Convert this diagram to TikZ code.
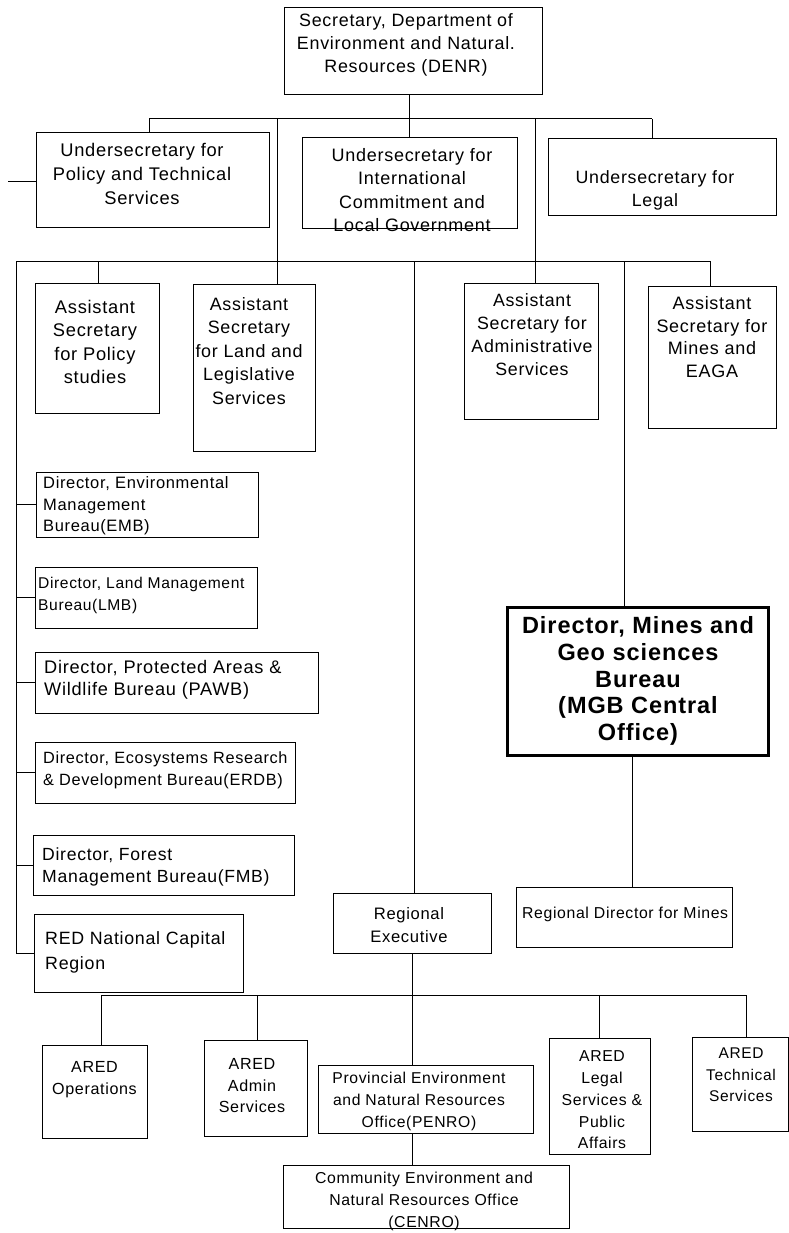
\documentclass[tikz,border=0pt]{standalone}
\usepackage{fontspec}
\setmainfont{Liberation Sans}[LetterSpace=4]
\newcommand\fsz[2]{\fontsize{#1}{#2}\selectfont}
\newcommand\obox[6][]{%
  \pgfmathsetmacro\obw{#5-#3}%
  \pgfmathsetmacro\obh{#6-#4}%
  \pgfmathsetmacro\obx{(#3+#5)/2}%
  \pgfmathsetmacro\oby{(#4+#6)/2}%
  \node[boxst,#1,minimum width=\obw pt,minimum height=\obh pt] (#2) at (\obx,\oby) {};}
\begin{document}
\begin{tikzpicture}[x=1pt,y=-1pt,
  boxst/.style={draw,line width=1pt,inner sep=0pt,outer sep=0pt},
  thickbox/.style={line width=3pt},
  txt/.style={inner sep=0pt,align=center,anchor=center},
  ltxt/.style={inner sep=0pt,align=left,anchor=west},
  con/.style={line width=1pt}]
\fill[white] (0,0) rectangle (789,1233);
\useasboundingbox (0,0) rectangle (789,1233);

% ---------- boxes ----------
\obox{den}{284}{8}{542}{95}
\obox{pts}{36}{133}{269}{228}
\obox{intl}{302}{138}{517}{229}
\obox{leg}{548}{139}{776}{216}
\obox{ps}{35}{283}{159}{413}
\obox{land}{193}{284}{315}{451}
\obox{adm}{464}{283}{598}{419}
\obox{eaga}{648}{286}{776}{428}
\obox{emb}{36}{472}{258}{537}
\obox{lmb}{35}{567}{257}{628}
\obox{pawb}{35}{652}{318}{713}
\obox{erdb}{35}{742}{295}{803}
\obox{fmb}{33}{835}{294}{895}
\obox{red}{34}{914}{243}{992}
\obox[thickbox]{mgb}{507}{607}{768}{755}
\obox{rdm}{516}{887}{732}{947}
\obox{rex}{333}{893}{491}{953}
\obox{ops}{42}{1045}{147}{1138}
\obox{aadm}{204}{1040}{307}{1136}
\obox{penro}{318}{1065}{533}{1133}
\obox{aleg}{549}{1038}{650}{1154}
\obox{tech}{692}{1037}{788}{1131}
\obox{cenro}{283}{1165}{569}{1228}

% ---------- texts ----------
\node[txt,font=\fsz{17.9}{23}] (denT) at (406,45) {Secretary, Department of\\Environment and Natural.\\Resources (DENR)};
\node[txt,font=\fsz{18.3}{24}] (ptsT) at (142,174) {Undersecretary for\\Policy and Technical\\Services};
\node[txt,font=\fsz{18}{23.3}] (intlT) at (412,190) {Undersecretary for\\International\\Commitment and\\Local Government};
\node[txt,font=\fsz{17.8}{23}] (legT) at (655,190) {Undersecretary for\\Legal};
\node[txt,font=\fsz{18.3}{23.5}] (psT) at (95,342) {Assistant\\Secretary\\for Policy\\studies};
\node[txt,font=\fsz{17.9}{23.5}] (landT) at (249,351) {Assistant\\Secretary\\for Land and\\Legislative\\Services};
\node[txt,font=\fsz{17.8}{23}] (admT) at (532,335) {Assistant\\Secretary for\\Administrative\\Services};
\node[txt,font=\fsz{18}{22.7}] (eagaT) at (712,337) {Assistant\\Secretary for\\Mines and\\EAGA};
\node[ltxt,font=\fsz{16.5}{21.5}] (embT) at (43,506) {Director, Environmental\\Management\\Bureau(EMB)};
\node[ltxt,font=\fsz{15.6}{22}] (lmbT) at (38,595) {Director, Land Management\\Bureau(LMB)};
\node[ltxt,font=\fsz{18.2}{22}] (pawbT) at (44,680) {Director, Protected Areas \&\\Wildlife Bureau (PAWB)};
\node[ltxt,font=\fsz{16.3}{22}] (erdbT) at (43,770) {Director, Ecosystems Research\\\& Development Bureau(ERDB)};
\node[ltxt,font=\fsz{17.6}{22}] (fmbT) at (42,867) {Director, Forest\\Management Bureau(FMB)};
\node[ltxt,font=\fsz{17.8}{25}] (redT) at (45,952) {RED National Capital\\Region};
\node[txt,font=\bfseries\fsz{23.5}{26.7}] (mgbT) at (638,681) {Director, Mines and\\Geo sciences\\Bureau\\(MGB Central\\Office)};
\node[ltxt,font=\fsz{15.8}{20}] (rdmT) at (522,914) {Regional Director for Mines};
\node[txt,font=\fsz{16.6}{23}] (rexT) at (409,925) {Regional\\Executive};
\node[txt,font=\fsz{16.1}{22}] (opsT) at (94.5,1080) {ARED\\Operations};
\node[txt,font=\fsz{16.1}{21.5}] (aadmT) at (252,1086) {ARED\\Admin\\Services};
\node[txt,font=\fsz{15.7}{22}] (penroT) at (419,1101) {Provincial Environment\\and Natural Resources\\Office(PENRO)};
\node[txt,font=\fsz{15.8}{21.7}] (alegT) at (602,1100) {ARED\\Legal\\Services \&\\Public\\Affairs};
\node[txt,font=\fsz{15.5}{21.5}] (techT) at (741,1075) {ARED\\Technical\\Services};
\node[txt,font=\fsz{15.8}{22}] (cenroT) at (424,1201) {Community Environment and\\Natural Resources Office\\(CENRO)};

% ---------- connectors ----------
\coordinate (b1L) at (149,119);
\coordinate (b1R) at (652,119);
\coordinate (a1) at (277,119);
\coordinate (a2) at (535,119);
\coordinate (lstub) at (8,182);
\draw[con] (b1L) -- (b1R);
\draw[con] (intl.north) -- (intl.north |- den.south);
\draw[con] (b1L) -- (b1L |- pts.north);
\draw[con] (b1R) -- (b1R |- leg.north);
\draw[con] (a1) -- (a1 |- land.north);
\draw[con] (a2) -- (a2 |- adm.north);
\draw[con] (lstub) -- (lstub -| pts.west);

\coordinate (b2L) at (16,261);
\coordinate (b2R) at (710,261);
\coordinate (d1) at (98,261);
\coordinate (d2) at (414,261);
\coordinate (d3) at (624,261);
\draw[con] (b2L) -- (b2R);
\draw[con] (b2R) -- (b2R |- eaga.north);
\draw[con] (d1) -- (d1 |- ps.north);
\draw[con] (d2) -- (d2 |- rex.north);
\draw[con] (d3) -- (d3 |- mgb.north);
\draw[con] (b2L) -- (b2L |- red.west) -- (red.west);
\foreach \n in {emb,lmb,pawb,erdb,fmb}
  \draw[con] (b2L |- \n.west) -- (\n.west);

\coordinate (mx) at (632,0);
\draw[con] (mgb.south -| mx) -- (rdm.north -| mx);

\coordinate (rx) at (412,0);
\coordinate (b3L) at (101,995);
\coordinate (b3R) at (746,995);
\coordinate (b3a) at (257,995);
\coordinate (b3c) at (599,995);
\draw[con] (b3L) -- (b3R);
\draw[con] (rex.south -| rx) -- (penro.north -| rx);
\draw[con] (penro.south -| rx) -- (cenro.north -| rx);
\draw[con] (b3L) -- (b3L |- ops.north);
\draw[con] (b3a) -- (b3a |- aadm.north);
\draw[con] (b3c) -- (b3c |- aleg.north);
\draw[con] (b3R) -- (b3R |- tech.north);
\end{tikzpicture}
\end{document}
